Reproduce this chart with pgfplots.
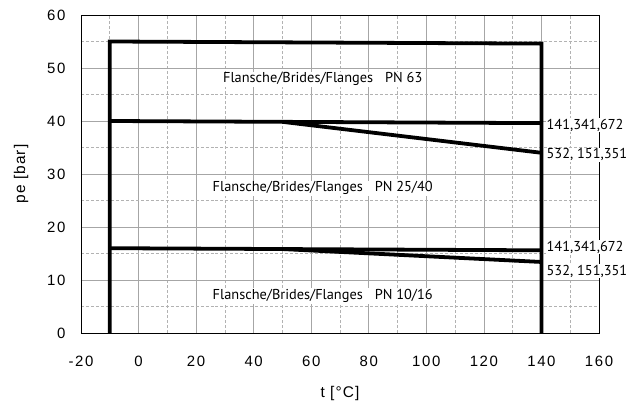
\documentclass[border=0pt]{standalone}
\usepackage{fontspec}
\usepackage{pgfplots}
\pgfplotsset{compat=1.18}
\setmainfont{Liberation Sans}
\newfontfamily\tickfont{Liberation Sans}[LetterSpace=11]
\newfontfamily\labfont{Liberation Sans}[LetterSpace=7]
\newfontfamily\annfont{PT Sans}

\begin{document}
\begin{tikzpicture}
  \begin{axis}[
      scale only axis,
      width=518bp, height=318bp,
      xmin=-20, xmax=160, ymin=0, ymax=60,
      xtick={-20,0,...,160},
      ytick={0,10,...,60},
      minor x tick num=1,
      minor y tick num=1,
      grid=both,
      major grid style={gray!70, line width=0.6pt},
      minor grid style={gray!60, line width=0.6pt, densely dashed},
      major tick length=0pt, minor tick length=0pt,
      axis line style={black, line width=0.8pt},
      /pgf/number format/assume math mode=true,
      ticklabel style={font=\tickfont\fontsize{15}{16}\selectfont},
      xticklabel style={yshift=-20bp},
      yticklabel style={xshift=-12bp},
      xlabel={t [°C]}, ylabel={pe [bar]},
      label style={font=\labfont\fontsize{15.5}{17}\selectfont},
      xlabel style={yshift=-12bp},
      ylabel style={yshift=12bp},
      clip=false,
    ]
    % frame of the permitted range
    \addplot[black, line width=3.8pt, line join=miter] coordinates {
      (-10,0) (-10,55) (140,54.6) (140,0)
    };
    % PN 25/40
    \addplot[black, line width=3.8pt] coordinates {(-10,40) (140,39.6)};
    \addplot[black, line width=3.8pt] coordinates {(50,39.84) (140,34.0)};
    % PN 10/16
    \addplot[black, line width=3.8pt] coordinates {(-10,16) (140,15.6)};
    \addplot[black, line width=3.8pt] coordinates {(50,15.84) (140,13.4)};

    \begin{scope}[every node/.style={font=\annfont\fontsize{14.4}{16}\selectfont, fill=white, inner sep=1pt}]
      \node at (axis cs:64,47.9) {Flansche/Brides/Flanges\hspace{12bp}PN 63};
      \node at (axis cs:64,27.3) {Flansche/Brides/Flanges\hspace{12bp}PN 25/40};
      \node at (axis cs:64,7.0) {Flansche/Brides/Flanges\hspace{12bp}PN 10/16};
      \node[anchor=west] at (axis cs:141.4,39.2) {141,341,672};
      \node[anchor=west] at (axis cs:141.4,33.6) {532, 151,351};
      \node[anchor=west] at (axis cs:141.4,16.2) {141,341,672};
      \node[anchor=west] at (axis cs:141.4,11.7) {532, 151,351};
    \end{scope}
  \end{axis}
  \path (current axis.south west) ++(-81bp,-70bp) coordinate (bbsw);
  \path (current axis.north east) ++(43bp,15bp) coordinate (bbne);
  \useasboundingbox (bbsw) rectangle (bbne);
\end{tikzpicture}
\end{document}
